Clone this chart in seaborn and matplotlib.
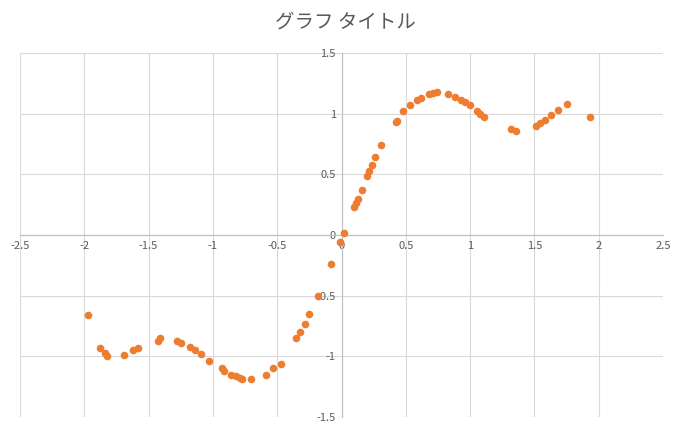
import matplotlib
matplotlib.use("Agg")
import matplotlib.pyplot as plt
import matplotlib.ticker as mticker
import seaborn as sns
import pandas as pd

x_vals = [-1.97, -1.88, -1.84, -1.82, -1.69, -1.62, -1.58, -1.43, -1.41, -1.28,
          -1.25, -1.18, -1.14, -1.09, -1.03, -0.93, -0.91, -0.86, -0.82, -0.79,
          -0.77, -0.70, -0.59, -0.53, -0.47, -0.35, -0.32, -0.28, -0.25, -0.18,
          -0.08, -0.01, 0.02, 0.10, 0.11, 0.13, 0.16, 0.20, 0.21, 0.24,
          0.26, 0.31, 0.42, 0.43, 0.48, 0.53, 0.59, 0.62, 0.68, 0.71,
          0.74, 0.83, 0.88, 0.93, 0.96, 1.00, 1.05, 1.08, 1.11, 1.32,
          1.36, 1.51, 1.54, 1.58, 1.63, 1.68, 1.75, 1.93]
y_vals = [-0.66, -0.93, -0.97, -1.00, -0.99, -0.95, -0.93, -0.87, -0.85, -0.87,
          -0.89, -0.92, -0.95, -0.98, -1.04, -1.10, -1.12, -1.15, -1.16, -1.18,
          -1.19, -1.19, -1.15, -1.10, -1.06, -0.85, -0.80, -0.73, -0.65, -0.50,
          -0.24, -0.06, 0.02, 0.23, 0.26, 0.30, 0.37, 0.49, 0.53, 0.58,
          0.64, 0.74, 0.93, 0.94, 1.02, 1.07, 1.11, 1.13, 1.16, 1.17,
          1.18, 1.16, 1.14, 1.11, 1.10, 1.07, 1.02, 1.00, 0.97, 0.87,
          0.86, 0.90, 0.92, 0.95, 0.99, 1.03, 1.08, 0.97]
title = "グラフ タイトル"

df = pd.DataFrame({"x": x_vals, "y": y_vals})

sns.set_style("white")
plt.rcParams['font.family'] = ['Noto Sans CJK JP', 'DejaVu Sans']

fig = plt.figure(figsize=(6.92, 4.37), dpi=100)
ax = fig.add_axes([20 / 692, 20 / 437, 643 / 692, 364 / 437])
sns.scatterplot(data=df, x="x", y="y", ax=ax, color="#ED7D31", s=30,
                edgecolor="#ED7D31", linewidth=0, zorder=3)

ax.set_xlim(-2.5, 2.5)
ax.set_ylim(-1.5, 1.5)
ax.xaxis.set_major_locator(mticker.MultipleLocator(0.5))
ax.yaxis.set_major_locator(mticker.MultipleLocator(0.5))
fmt = mticker.FuncFormatter(lambda v, p: f"{v:g}")
ax.xaxis.set_major_formatter(fmt)
ax.yaxis.set_major_formatter(fmt)
ax.grid(True, color="#D9D9D9", linewidth=0.8)
ax.set_axisbelow(True)

for s in ["top", "right"]:
    ax.spines[s].set_visible(False)
ax.spines["left"].set_position(("data", 0))
ax.spines["bottom"].set_position(("data", 0))
ax.spines["left"].set_color("#BFBFBF")
ax.spines["bottom"].set_color("#BFBFBF")
ax.tick_params(axis="both", labelsize=8, labelcolor="#595959", length=0, pad=4)
ax.set_xlabel("")
ax.set_ylabel("")

fig.text(345 / 692, 1 - 22 / 437, title, ha="center", va="center",
         fontsize=14, color="#595959")

fig.savefig("out.png", dpi=100)
